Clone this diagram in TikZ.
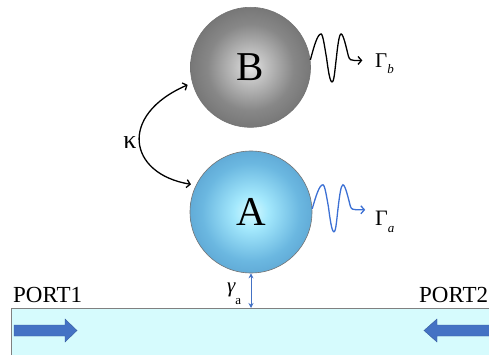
\documentclass[tikz,border=0pt]{standalone}
\usepackage{fontspec}
\setmainfont{Liberation Serif}
\usetikzlibrary{arrows.meta}
\pgfdeclareradialshading{ballB}{\pgfpoint{0bp}{0bp}}{rgb(0bp)=(0.90,0.90,0.90); rgb(6bp)=(0.76,0.76,0.76); rgb(18bp)=(0.53,0.53,0.53); rgb(35bp)=(0.38,0.38,0.38); rgb(48bp)=(0.28,0.28,0.28); rgb(50bp)=(0.22,0.22,0.22); rgb(100bp)=(0.22,0.22,0.22)}
\pgfdeclareradialshading{ballA}{\pgfpoint{0bp}{0bp}}{rgb(0bp)=(0.84,0.98,1.0); rgb(7bp)=(0.64,0.91,0.99); rgb(20bp)=(0.42,0.72,0.88); rgb(36bp)=(0.30,0.57,0.77); rgb(48bp)=(0.24,0.46,0.65); rgb(50bp)=(0.19,0.36,0.52); rgb(100bp)=(0.19,0.36,0.52)}
\definecolor{guide}{RGB}{214,251,253}
\definecolor{wblue}{RGB}{68,114,196}
\definecolor{ablue}{RGB}{60,112,212}
\begin{document}
\begin{tikzpicture}[x=1pt,y=-1pt,
  sphere/.style={circle,inner sep=0pt,draw=black!55,line width=0.6pt,font=\fontsize{41}{41}\selectfont},
  lbl/.style={inner sep=0pt},
  barb/.tip={Straight Barb[length=3.5pt,width=8pt]},
  wave/.style={line width=1.3pt,-barb},
  blockarrow/.style={fill=wblue,draw=wblue!80!black,line width=0.4pt}]
\useasboundingbox (0,0) rectangle (489,355);
\clip (0,0) rectangle (489,355);
% waveguide
\fill[guide] (11,308) rectangle (495,360);
\draw[gray,line width=0.8pt] (11,360) -- (11,308) -- (495,308);
\coordinate (wg) at (251,308);
% spheres
\node[sphere,shading=ballB,minimum size=120pt] (B) at (250.5,67.3) {B};
\node[sphere,shading=ballA,minimum size=122pt] (A) at (251,212) {A};
% coupling
\draw[line width=1.3pt,barb-barb,shorten <=5pt,shorten >=5pt]
  (B.195) .. controls (118,115) and (128,174) .. (A.154);
\node[lbl,font=\fontsize{26}{26}\selectfont] (kappa) at (130,143) {κ};
% wave B
\begin{scope}[shift={(B.7)}]
\draw[wave,black] (0,0) .. controls (3.5,-13) and (7,-26) .. (10.7,-26)
  .. controls (12.6,-26) and (14.4,-12) .. (16.2,-2)
  .. controls (17.8,10) and (19.5,22) .. (21.7,22)
  .. controls (23.8,22) and (24.5,10) .. (26,-2)
  .. controls (27.3,-14) and (28.8,-26) .. (30.7,-26)
  .. controls (33,-26) and (36,-12) .. (38,-4)
  .. controls (39,0) and (41,0.5) .. (44,0.5) -- (52,0.5);
\end{scope}
\node[lbl,anchor=base west,font=\fontsize{21}{21}\selectfont] (Gb) at (375,68) {Γ\raisebox{-6pt}{\fontsize{13}{13}\selectfont\itshape b}};
% wave A
\begin{scope}[shift={(A.3)}]
\draw[wave,ablue] (0,0) .. controls (3.5,-12) and (7,-24) .. (10.7,-24)
  .. controls (12.6,-24) and (14.4,-12) .. (16.2,-2)
  .. controls (17.8,10) and (19.5,23) .. (21.7,23)
  .. controls (23.8,23) and (24.5,10) .. (26,-2)
  .. controls (27.3,-13) and (28.8,-24) .. (30.7,-24)
  .. controls (33,-24) and (36,-11) .. (38,-3)
  .. controls (39,0.5) and (41,1) .. (44,1) -- (53,1);
\end{scope}
\node[lbl,anchor=base west,font=\fontsize{22}{22}\selectfont] (Ga) at (375,225) {Γ\raisebox{-7pt}{\fontsize{13}{13}\selectfont\itshape a}};
% gamma_a
\draw[wblue,line width=0.8pt,{Stealth[length=5pt,width=5pt]}-{Stealth[length=5pt,width=5pt]}] (A.south) -- (wg);
\node[lbl,anchor=base west,font=\fontsize{21}{21}\selectfont] (gam) at (227,292) {\itshape γ\raisebox{-12pt}{\upshape\fontsize{13}{13}\selectfont a}};
% ports
\node[lbl,anchor=base west,font=\fontsize{23}{23}\selectfont] (p1) at (13,302) {PORT1};
\node[lbl,anchor=base west,font=\fontsize{23}{23}\selectfont] (p2) at (419,302) {PORT2};
\draw[blockarrow] (14,325) -- (65,325) -- (65,319) -- (77,330.5) -- (65,342) -- (65,336) -- (14,336) -- cycle;
\draw[blockarrow] (495,325) -- (437,325) -- (437,319) -- (424,330.5) -- (437,342) -- (437,336) -- (495,336) -- cycle;
\end{tikzpicture}
\end{document}
